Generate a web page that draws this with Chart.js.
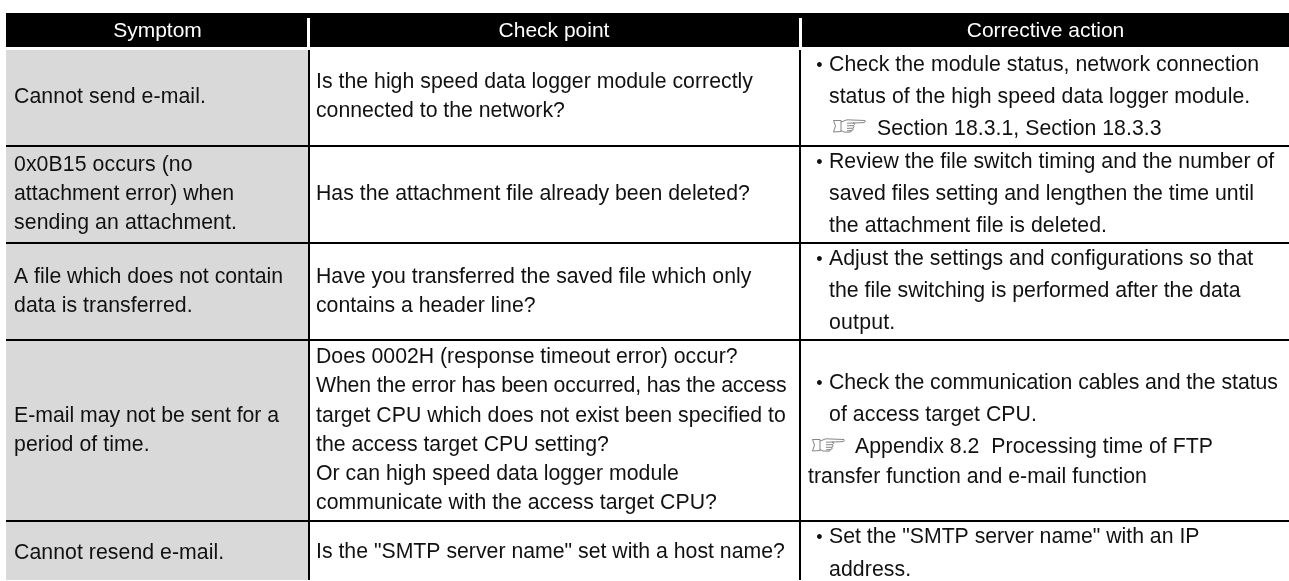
<!DOCTYPE html>
<html><head><meta charset="utf-8">
<style>html,body{margin:0;padding:0;background:#fff;overflow:hidden}canvas{display:block}</style>
<script src="https://cdn.jsdelivr.net/npm/chart.js@4"></script></head>
<body><canvas id="c" width="1289" height="581" style="width:1289px;height:581px"></canvas>
<script>
const headers = ["Symptom", "Check point", "Corrective action"];
const symptoms = [
  ["Cannot send e-mail."],
  ["0x0B15 occurs (no", "attachment error) when", "sending an attachment."],
  ["A file which does not contain", "data is transferred."],
  ["E-mail may not be sent for a", "period of time."],
  ["Cannot resend e-mail."]
];
const checkPoints = [
  ["Is the high speed data logger module correctly", "connected to the network?"],
  ["Has the attachment file already been deleted?"],
  ["Have you transferred the saved file which only", "contains a header line?"],
  ["Does 0002H (response timeout error) occur?", "When the error has been occurred, has the access", "target CPU which does not exist been specified to", "the access target CPU setting?", "Or can high speed data logger module", "communicate with the access target CPU?"],
  ["Is the \"SMTP server name\" set with a host name?"]
];
const actions = [
  ["Check the module status, network connection", "status of the high speed data logger module.", "Section 18.3.1, Section 18.3.3"],
  ["Review the file switch timing and the number of", "saved files setting and lengthen the time until", "the attachment file is deleted."],
  ["Adjust the settings and configurations so that", "the file switching is performed after the data", "output."],
  ["Check the communication cables and the status", "of access target CPU.", "Appendix 8.2  Processing time of FTP", "transfer function and e-mail function"],
  ["Set the \"SMTP server name\" with an IP", "address."]
];
// Layout of the table, in page pixels (the hidden scales run 0..1289 and 0..581)
const tableBox = {left:6, right:1289, headTop:13, headBottom:47, bodyTop:50, bottom:580, headRuleTop:18};
const columnRules = [309, 800];
const headRules = [308.5, 800.5];
const rowRules = [146, 243, 340, 521];
const headerCentres = [157.5, 554, 1045.5];
const headerBaseline = 37;
const textX = [14, 316, 829];
const bulletX = 816.3;
const symptomY = [[103],[171,200,228.7],[283.2,312],[421.7,451.3],[558.5]];
const checkY = [[88,117],[200],[283.2,312],[363,392.2,421.5,451,480.3,509.3],[558.3]];
const actionY = [[71,103,135],[167.5,200,232.3],[264.6,296.8,328.7],[388.5,421,453.4,482.7],[543.2,575.5]];
const symptomEnd = [[204],[191.7,233.3,235],[282.3,190.7],[279.3,147.7],[222.3]];
const checkEnd = [[753.3,565],[750],[751.7,535.7],[737.7,786,785,609,678,717],[785]];
const actionEnd = [[1258.3,1248.3,1160.7],[1274.3,1253.3,1105],[1253.3,1240.7,893.3],[1277.3,1035,1212.7,1146],[1199.3,909.3]];
const actionStart = {"0,2":877, "3,2":855, "3,3":808};
const hands = [{x:833, y:119}, {x:812, y:438}];
const bulletLines = [[0,0],[1,0],[2,0],[3,0],[4,0]];

const rect = (x0,x1,y0,y1,color,order)=>({data:[{x:x0,y:y0},{x:x1,y:y0}],showLine:true,fill:{value:y1},
  backgroundColor:color,borderWidth:0,borderColor:color,pointRadius:0,order});
const rule = (x0,y0,x1,y1,color,w,order)=>({data:[{x:x0,y:y0},{x:x1,y:y1}],showLine:true,fill:false,
  borderColor:color,borderWidth:w,pointRadius:0,order});
const B = tableBox;
const datasets = [
  rect(B.left,B.right,B.headTop,B.headBottom,'#000',10),
  rect(B.left,columnRules[0],B.bodyTop,B.bottom,'#d9d9d9',10),
  ...headRules.map(x=>rule(x,B.headRuleTop,x,B.headBottom,'#fff',3,5)),
  ...columnRules.map(x=>rule(x,B.bodyTop,x,B.bottom,'#000',2,5)),
  ...rowRules.map(y=>rule(B.left,y,B.right,y,'#000',2,5))
];

function drawHand(ctx,ox,oy){
  ctx.save();
  ctx.translate(ox,oy);
  ctx.strokeStyle='#666';ctx.lineWidth=0.8;ctx.lineJoin='round';
  ctx.beginPath();
  ctx.moveTo(0.5,1.5);ctx.lineTo(8,1.5);ctx.lineTo(8,12.5);ctx.lineTo(0.5,13);ctx.lineTo(2.5,7);ctx.closePath();
  ctx.moveTo(8,3);ctx.lineTo(14,0.8);ctx.lineTo(32,1.5);ctx.quadraticCurveTo(33,3,31,3.6);ctx.lineTo(20,4);
  ctx.moveTo(14,4.2);ctx.lineTo(21,4);ctx.quadraticCurveTo(22.5,5.5,20.5,6.6);ctx.lineTo(14,6.8);
  ctx.moveTo(20.5,6.6);ctx.quadraticCurveTo(22,8,20,9.2);ctx.lineTo(14,9.4);
  ctx.moveTo(20,9.2);ctx.quadraticCurveTo(21,11,18.5,11.6);ctx.lineTo(14,11.8);
  ctx.moveTo(18.5,11.6);ctx.quadraticCurveTo(18.5,13.2,16,13.2);ctx.lineTo(11,13);ctx.lineTo(8,11.5);
  ctx.stroke();
  ctx.restore();
}

function fitText(ctx,t,xp,yp,endp){
  ctx.letterSpacing='0px';
  const w=ctx.measureText(t).actualBoundingBoxRight;
  ctx.letterSpacing=((endp-xp-w)/(t.length-1))+'px';
  ctx.fillText(t,xp,yp);
  ctx.letterSpacing='0px';
}

const tableText = {
  id:'tableText',
  afterDatasetsDraw(chart){
    const {ctx,scales:{x,y}} = chart;
    const px=v=>x.getPixelForValue(v), py=v=>y.getPixelForValue(v);
    ctx.save();
    ctx.textBaseline='alphabetic';
    ctx.font='21px "Liberation Sans", Arial, sans-serif';
    ctx.fillStyle='#fff';ctx.textAlign='center';
    headers.forEach((h,i)=>ctx.fillText(h,px(headerCentres[i]),py(headerBaseline)));
    ctx.textAlign='left';ctx.fillStyle='#111';
    ctx.font='21.25px "Liberation Sans", Arial, sans-serif';
    symptoms.forEach((r,i)=>r.forEach((t,j)=>fitText(ctx,t,px(textX[0]),py(symptomY[i][j]),px(symptomEnd[i][j]))));
    checkPoints.forEach((r,i)=>r.forEach((t,j)=>fitText(ctx,t,px(textX[1]),py(checkY[i][j]),px(checkEnd[i][j]))));
    actions.forEach((r,i)=>r.forEach((t,j)=>{
      const sx = actionStart[i+','+j] ?? textX[2];
      fitText(ctx,t,px(sx),py(actionY[i][j]),px(actionEnd[i][j]));
    }));
    ctx.font='18px "Liberation Sans", Arial, sans-serif';
    bulletLines.forEach(([i,j])=>ctx.fillText('\u2022',px(bulletX),py(actionY[i][j])));
    hands.forEach(h=>drawHand(ctx,px(h.x),py(h.y)));
    ctx.restore();
  }
};

new Chart(document.getElementById('c'),{
  type:'scatter',
  data:{datasets},
  options:{
    responsive:false,animation:false,events:[],
    layout:{padding:0},
    plugins:{legend:{display:false},tooltip:{enabled:false},title:{display:false}},
    scales:{
      x:{type:'linear',min:0,max:1289,display:false},
      y:{type:'linear',min:0,max:581,reverse:true,display:false}
    }
  },
  plugins:[tableText]
});
</script>
</body></html>
